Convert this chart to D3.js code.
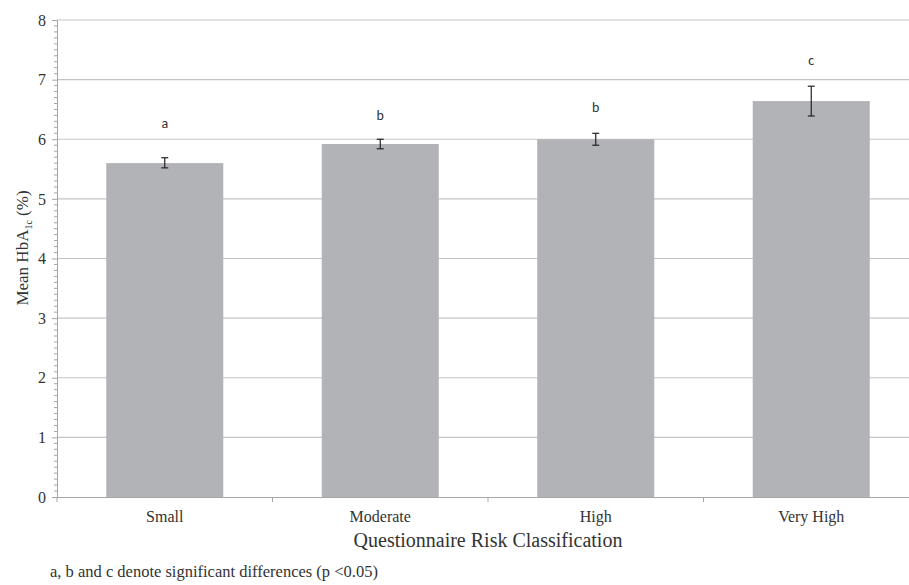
<!DOCTYPE html>
<html>
<head>
<meta charset="utf-8">
<script src="https://cdn.jsdelivr.net/npm/d3@7"></script>
<style>
  body { margin: 0; background: #fff; }
</style>
</head>
<body>
<div id="chart"></div>
<script>
const categories = ['Small', 'Moderate', 'High', 'Very High'];
const means = [5.6, 5.92, 6.0, 6.64];
const errLow = [5.52, 5.84, 5.9, 6.39];
const errHigh = [5.69, 6.0, 6.1, 6.89];
const letters = ['a', 'b', 'b', 'c'];
const letterPos = [6.27, 6.4, 6.54, 7.33];
const yTicks = [0, 1, 2, 3, 4, 5, 6, 7, 8];

const W = 909, H = 585;
const plotLeft = 57, plotTop = 20, plotBottom = 497;
const bandW = 215.5;
const serif = '"Liberation Serif", "Times New Roman", serif';
const sans = 'Carlito, "Open Sans", "Noto Sans", sans-serif';

const svg = d3.select('#chart').append('svg')
    .attr('width', W)
    .attr('height', H);

const x = d3.scaleBand()
    .domain(categories)
    .range([plotLeft, plotLeft + bandW * categories.length])
    .paddingInner(0.457)
    .paddingOuter(0.2285);

const y = d3.scaleLinear()
    .domain([0, 8])
    .range([plotBottom, plotTop]);

// gridlines
svg.append('g')
    .selectAll('line')
    .data(yTicks.filter(d => d > 0))
    .enter().append('line')
    .attr('x1', plotLeft)
    .attr('x2', W)
    .attr('y1', d => y(d))
    .attr('y2', d => y(d))
    .attr('stroke', '#c4c4c4')
    .attr('stroke-width', 1.2);

// bars
svg.selectAll('.bar')
    .data(categories)
    .enter().append('rect')
    .attr('class', 'bar')
    .attr('x', d => x(d))
    .attr('y', (d, i) => y(means[i]))
    .attr('width', x.bandwidth())
    .attr('height', (d, i) => y(0) - y(means[i]))
    .attr('fill', '#b2b3b7');

// error bars
const err = svg.append('g').attr('stroke', '#222').attr('stroke-width', 1.2);
categories.forEach((c, i) => {
    const cx = x(c) + x.bandwidth() / 2;
    err.append('line').attr('x1', cx).attr('x2', cx).attr('y1', y(errLow[i])).attr('y2', y(errHigh[i]));
    err.append('line').attr('x1', cx - 3.5).attr('x2', cx + 3.5).attr('y1', y(errLow[i])).attr('y2', y(errLow[i]));
    err.append('line').attr('x1', cx - 3.5).attr('x2', cx + 3.5).attr('y1', y(errHigh[i])).attr('y2', y(errHigh[i]));
});

// significance letters
svg.selectAll('.letter')
    .data(categories)
    .enter().append('text')
    .attr('class', 'letter')
    .attr('x', d => x(d) + x.bandwidth() / 2)
    .attr('y', (d, i) => y(letterPos[i]))
    .attr('dy', '0.35em')
    .attr('text-anchor', 'middle')
    .style('font-family', sans)
    .style('font-size', '14px')
    .style('fill', '#333')
    .text((d, i) => letters[i]);

// y axis
const yAxis = svg.append('g')
    .attr('transform', `translate(${plotLeft},0)`)
    .call(d3.axisLeft(y).tickValues(yTicks).tickSize(5).tickPadding(6).tickFormat(d3.format('d')));
yAxis.select('.domain').attr('stroke', '#a6a6a6');
yAxis.selectAll('.tick line').attr('stroke', '#a6a6a6');
yAxis.selectAll('.tick text')
    .style('font-family', serif)
    .style('font-size', '16px')
    .style('fill', '#333');

// minor ticks
svg.append('g')
    .selectAll('line')
    .data(d3.range(0, 80).map(d => d / 10).filter(d => d % 1 !== 0))
    .enter().append('line')
    .attr('x1', plotLeft - 3)
    .attr('x2', plotLeft)
    .attr('y1', d => y(d))
    .attr('y2', d => y(d))
    .attr('stroke', '#a6a6a6');

// x axis
const xAxis = svg.append('g')
    .attr('transform', `translate(0,${plotBottom})`)
    .call(d3.axisBottom(x).tickSize(0).tickPadding(14));
xAxis.select('.domain').attr('stroke', '#a6a6a6');
xAxis.selectAll('.tick text')
    .style('font-family', serif)
    .style('font-size', '16px')
    .style('fill', '#333');

// category boundary ticks
svg.append('g')
    .selectAll('line')
    .data(d3.range(categories.length + 1))
    .enter().append('line')
    .attr('x1', d => plotLeft + d * bandW)
    .attr('x2', d => plotLeft + d * bandW)
    .attr('y1', plotBottom)
    .attr('y2', plotBottom + 5)
    .attr('stroke', '#a6a6a6');

// axis titles
const yTitle = svg.append('text')
    .attr('transform', 'translate(28,248) rotate(-90)')
    .attr('text-anchor', 'middle')
    .style('font-family', serif)
    .style('font-size', '17px')
    .style('fill', '#333');
yTitle.append('tspan').text('Mean HbA');
yTitle.append('tspan').style('font-size', '10px').attr('dy', 4).text('1c');
yTitle.append('tspan').attr('dy', -4).text(' (%)');

svg.append('text')
    .attr('x', 488)
    .attr('y', 547)
    .attr('text-anchor', 'middle')
    .style('font-family', serif)
    .style('font-size', '20px')
    .style('fill', '#333')
    .text('Questionnaire Risk Classification');

svg.append('text')
    .attr('x', 50)
    .attr('y', 577)
    .style('font-family', serif)
    .style('font-size', '16.5px')
    .style('fill', '#333')
    .text('a, b and c denote significant differences (p <0.05)');
</script>
</body>
</html>
